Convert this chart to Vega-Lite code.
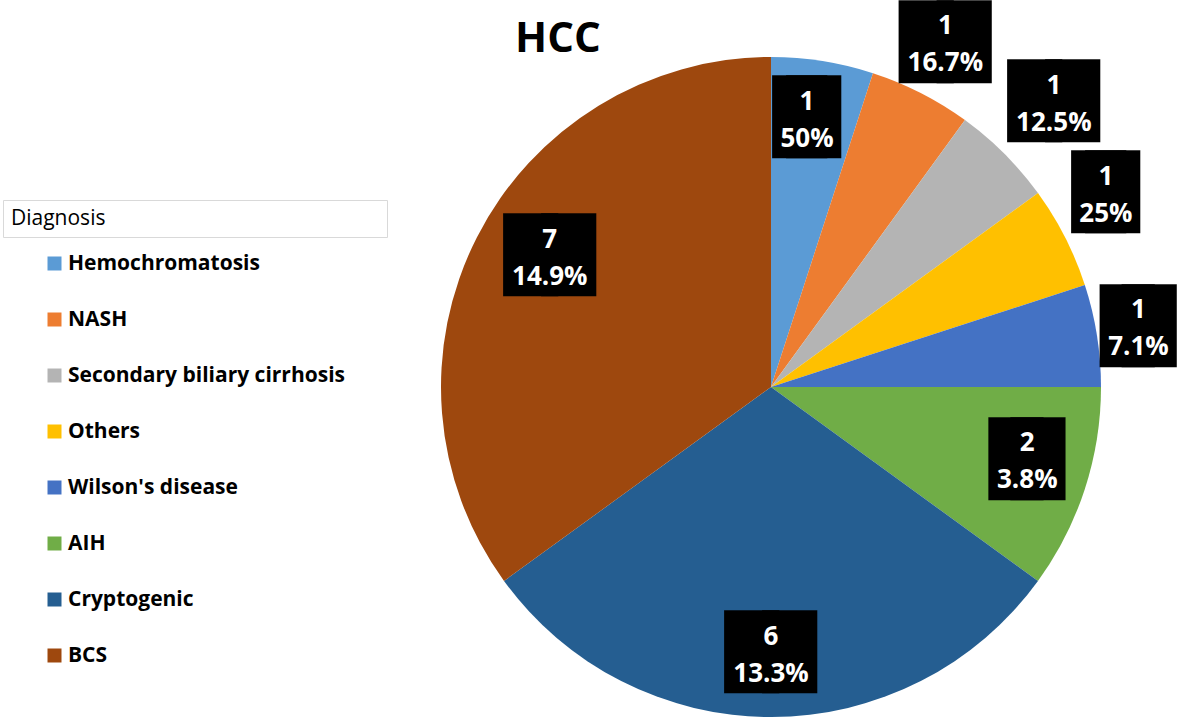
{
  "$schema": "https://vega.github.io/schema/vega-lite/v6.json",
  "width": 818,
  "height": 660,
  "autosize": {"type": "none"},
  "padding": {"left": 362, "top": 57, "right": 0, "bottom": 0},
  "background": "white",
  "title": {"text": "HCC", "anchor": "start", "frame": "group", "dx": 153, "dy": 84, "offset": 0, "baseline": "alphabetic", "font": "Open Sans", "fontSize": 42, "fontWeight": "bold", "color": "#000000"},
  "config": {"view": {"stroke": null}},
  "data": {"values": [
    {"idx": 1, "diagnosis": "Hemochromatosis", "count": 1, "pct": "50%"},
    {"idx": 2, "diagnosis": "NASH", "count": 1, "pct": "16.7%"},
    {"idx": 3, "diagnosis": "Secondary biliary cirrhosis", "count": 1, "pct": "12.5%"},
    {"idx": 4, "diagnosis": "Others", "count": 1, "pct": "25%"},
    {"idx": 5, "diagnosis": "Wilson's disease", "count": 1, "pct": "7.1%"},
    {"idx": 6, "diagnosis": "AIH", "count": 2, "pct": "3.8%"},
    {"idx": 7, "diagnosis": "Cryptogenic", "count": 6, "pct": "13.3%"},
    {"idx": 8, "diagnosis": "BCS", "count": 7, "pct": "14.9%"}
  ]},
  "encoding": {
    "theta": {"field": "count", "type": "quantitative", "stack": true},
    "order": {"field": "idx", "type": "quantitative", "sort": "ascending"}
  },
  "layer": [
    {
      "mark": {"type": "arc", "outerRadius": 330},
      "encoding": {
        "color": {
          "field": "diagnosis", "type": "nominal",
          "scale": {
            "domain": ["Hemochromatosis", "NASH", "Secondary biliary cirrhosis", "Others", "Wilson's disease", "AIH", "Cryptogenic", "BCS"],
            "range": ["#5B9BD5", "#ED7D31", "#B4B4B4", "#FFC000", "#4472C4", "#70AD47", "#255E91", "#9E480E"]
          },
          "legend": {
            "orient": "none", "legendX": -359, "legendY": 196,
            "title": null,
            "labelFont": "Open Sans", "labelFontSize": 21, "labelFontWeight": "bold", "labelColor": "#000000", "labelLimit": 0,
            "symbolType": "square", "symbolSize": 196, "symbolStrokeWidth": 0, "symbolOffset": 41, "labelOffset": 3,
            "rowPadding": 34, "padding": 0
          }
        }
      }
    },
    {
      "mark": {"type": "text", "text": "█", "font": "DejaVu Sans", "fontSize": 70, "color": "#000000", "align": "center", "baseline": "middle",
        "radius": {"expr": "[0,269,384,400,386,372,267,268,256][datum.idx]"},
        "thetaOffset": {"expr": "[0,-0.0227,0,0,-0.0489,0,-0.0297,0,0.0563][datum.idx]"},
        "dx": {"expr": "length(datum.pct) == 5 ? -19 : length(datum.pct) == 4 ? -11 : -7"}},
      "encoding": {"detail": {"field": "diagnosis", "type": "nominal"}}
    },
    {
      "mark": {"type": "text", "text": "█", "font": "DejaVu Sans", "fontSize": 70, "color": "#000000", "align": "center", "baseline": "middle",
        "radius": {"expr": "[0,269,384,400,386,372,267,268,256][datum.idx]"},
        "thetaOffset": {"expr": "[0,-0.0227,0,0,-0.0489,0,-0.0297,0,0.0563][datum.idx]"},
        "dx": {"expr": "length(datum.pct) == 5 ? 19 : length(datum.pct) == 4 ? 11 : 7"}},
      "encoding": {"detail": {"field": "diagnosis", "type": "nominal"}}
    },
    {
      "mark": {"type": "text", "font": "Open Sans", "fontSize": 26, "fontWeight": "bold", "color": "#FFFFFF", "align": "center", "baseline": "middle", "dy": -18.5,
        "radius": {"expr": "[0,269,384,400,386,372,267,268,256][datum.idx]"},
        "thetaOffset": {"expr": "[0,-0.0227,0,0,-0.0489,0,-0.0297,0,0.0563][datum.idx]"}},
      "encoding": {
        "detail": {"field": "diagnosis", "type": "nominal"},
        "text": {"field": "count", "type": "quantitative"},
        "size": {
          "field": "count", "type": "quantitative", "scale": {"range": [26, 26]},
          "legend": {
            "values": [], "orient": "none", "legendX": -359, "legendY": 143,
            "title": "Diagnosis\u00a0\u00a0\u00a0\u00a0\u00a0\u00a0\u00a0\u00a0\u00a0\u00a0\u00a0\u00a0\u00a0\u00a0\u00a0\u00a0\u00a0\u00a0\u00a0\u00a0\u00a0\u00a0\u00a0\u00a0\u00a0\u00a0\u00a0\u00a0\u00a0\u00a0\u00a0\u00a0\u00a0\u00a0\u00a0\u00a0\u00a0\u00a0\u00a0\u00a0\u00a0\u00a0\u00a0\u00a0\u00a0\u00a0\u00a0\u00a0\u00a0\u00a0\u200b",
            "titleFont": "Open Sans", "titleFontSize": 21, "titleFontWeight": "normal", "titleColor": "#000000", "titleLimit": 0,
            "padding": 8, "strokeColor": "#D9D9D9"
          }
        }
      }
    },
    {
      "mark": {"type": "text", "font": "Open Sans", "fontSize": 26, "fontWeight": "bold", "color": "#FFFFFF", "align": "center", "baseline": "middle", "dy": 18.5,
        "radius": {"expr": "[0,269,384,400,386,372,267,268,256][datum.idx]"},
        "thetaOffset": {"expr": "[0,-0.0227,0,0,-0.0489,0,-0.0297,0,0.0563][datum.idx]"}},
      "encoding": {"detail": {"field": "diagnosis", "type": "nominal"}, "text": {"field": "pct", "type": "nominal"}}
    }
  ]
}
